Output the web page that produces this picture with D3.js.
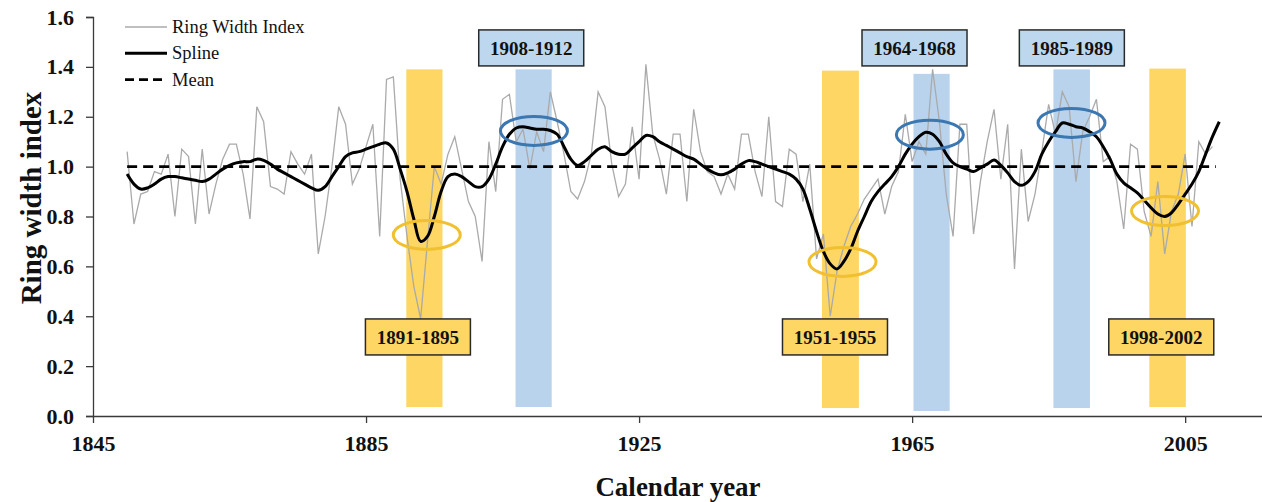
<!DOCTYPE html>
<html>
<head>
<meta charset="utf-8">
<script src="https://cdn.jsdelivr.net/npm/d3@7"></script>
<style>
  body { margin: 0; background: #fff; }
  text { font-family: "Liberation Serif", "Times New Roman", serif; }
</style>
</head>
<body>
<svg id="chart"></svg>
<script>
// ---- data ----
const firstYear = 1850;
const ringWidth = [
  1.06, 0.77, 0.89, 0.90, 0.98, 0.97, 1.05, 0.80, 1.07, 1.04,   // 1850s
  0.77, 1.07, 0.81, 0.93, 1.03, 1.09, 1.09, 0.97, 0.79, 1.24,   // 1860s
  1.18, 0.92, 0.91, 0.89, 1.06, 1.01, 0.97, 1.05, 0.65, 0.80,   // 1870s
  1.00, 1.24, 1.17, 0.93, 0.99, 1.08, 1.17, 0.72, 1.35, 1.36,   // 1880s
  0.95, 0.72, 0.52, 0.39, 0.70, 1.00, 0.93, 1.05, 1.12, 0.99,   // 1890s
  0.86, 0.80, 0.62, 1.10, 0.90, 1.27, 1.29, 1.10, 1.15, 0.99,   // 1900s
  1.14, 1.06, 1.30, 1.18, 1.05, 0.90, 0.87, 0.94, 1.05, 1.30,   // 1910s
  1.24, 1.01, 0.88, 0.93, 1.16, 0.95, 1.41, 1.13, 1.03, 0.89,   // 1920s
  1.13, 1.13, 0.86, 1.23, 1.06, 0.98, 0.96, 0.89, 0.97, 0.91,   // 1930s
  1.13, 1.13, 0.98, 0.88, 1.20, 0.86, 0.84, 1.07, 1.05, 0.86,   // 1940s
  1.01, 0.63, 0.73, 0.40, 0.58, 0.68, 0.76, 0.81, 0.87, 0.91,   // 1950s
  0.95, 0.81, 0.92, 0.98, 1.21, 1.02, 1.10, 1.05, 1.39, 1.18,   // 1960s
  0.89, 0.72, 1.17, 1.17, 0.73, 0.94, 1.10, 1.23, 0.95, 1.17,   // 1970s
  0.59, 1.07, 0.78, 0.89, 1.06, 1.25, 1.13, 1.30, 1.24, 0.94,   // 1980s
  1.14, 1.20, 1.27, 1.02, 1.04, 0.94, 0.75, 1.09, 1.07, 0.82,   // 1990s
  0.72, 0.94, 0.65, 0.82, 0.89, 1.05, 0.76, 1.10, 1.05, 1.08    // 2000s
];
const spline = [
  0.97, 0.93, 0.91, 0.915, 0.93, 0.95, 0.96, 0.96, 0.955, 0.95,
  0.945, 0.94, 0.95, 0.97, 0.99, 1.005, 1.015, 1.02, 1.02, 1.03,
  1.025, 1.01, 0.99, 0.975, 0.96, 0.945, 0.93, 0.915, 0.905, 0.92,
  0.96, 1.00, 1.04, 1.055, 1.06, 1.07, 1.08, 1.09, 1.095, 1.07,
  0.99, 0.90, 0.79, 0.70, 0.72, 0.80, 0.90, 0.96, 0.97, 0.96,
  0.94, 0.92, 0.92, 0.95, 1.01, 1.08, 1.13, 1.155, 1.16, 1.155,
  1.15, 1.15, 1.145, 1.13, 1.08, 1.03, 1.005, 1.02, 1.045, 1.07,
  1.08, 1.06, 1.05, 1.05, 1.075, 1.10, 1.125, 1.12, 1.10, 1.085,
  1.07, 1.055, 1.04, 1.03, 1.01, 0.99, 0.975, 0.967, 0.975, 0.99,
  1.01, 1.024, 1.02, 1.01, 1.00, 0.99, 0.98, 0.97, 0.95, 0.91,
  0.83, 0.74, 0.66, 0.61, 0.59, 0.62, 0.67, 0.74, 0.80, 0.86,
  0.90, 0.93, 0.96, 1.00, 1.05, 1.09, 1.12, 1.138, 1.13, 1.10,
  1.05, 1.015, 1.00, 0.99, 0.98, 0.995, 1.01, 1.027, 1.005, 0.975,
  0.94, 0.925, 0.94, 0.98, 1.05, 1.10, 1.14, 1.175, 1.17, 1.16,
  1.155, 1.14, 1.12, 1.08, 1.03, 0.97, 0.935, 0.915, 0.895, 0.865,
  0.835, 0.81, 0.80, 0.815, 0.85, 0.89, 0.93, 0.98, 1.05, 1.12,
  1.18
];
const meanValue = 1.0;

const xTicks = [1845, 1885, 1925, 1965, 2005];
const yTicks = [0, 0.2, 0.4, 0.6, 0.8, 1.0, 1.2, 1.4, 1.6];

// highlighted periods: label, kind, shaded band, ring around spline, label box
const periodLabels = ["1891-1895", "1908-1912", "1951-1955", "1964-1968", "1985-1989", "1998-2002"];
const periodKind   = ["dry", "wet", "dry", "wet", "wet", "dry"];
const bandStart    = [1890.9, 1906.9, 1951.8, 1965.2, 1985.7, 1999.75];
const bandEnd      = [1896.2, 1912.2, 1957.2, 1970.5, 1991.05, 2005.1];
const bandTop      = [1.39, 1.39, 1.385, 1.372, 1.39, 1.393];
const bandBottom   = [0.036, 0.036, 0.032, 0.02, 0.032, 0.036];
const ringYear     = [1893.9, 1909.6, 1954.8, 1967.6, 1988.35, 2002.05];
const ringValue    = [0.726, 1.143, 0.618, 1.128, 1.175, 0.822];
const labelYear    = [1892.6, 1909.2, 1953.7, 1965.35, 1988.4, 2001.5];
const labelValue   = [0.317, 1.476, 0.317, 1.476, 1.476, 0.317];

const legendNames = ["Ring Width Index", "Spline", "Mean"];

// ---- layout ----
const W = 1262, H = 502;
const colors = {
  grey: "#aaaaaa",
  dryBand: "#fdd663", wetBand: "#b9d3ec",
  dryBox: "#fdd663", wetBox: "#bdd7ee",
  dryRing: "#f0c030", wetRing: "#3b78b2",
  axis: "#3a3a3a"
};

const svg = d3.select("#chart")
    .attr("width", W)
    .attr("height", H)
    .style("display", "block");

svg.append("rect").attr("width", W).attr("height", H).attr("fill", "#fff");

const x = d3.scaleLinear().domain([1845, 2025]).range([93, 93 + 180 * 6.826]);
const y = d3.scaleLinear().domain([0, 1.6]).range([416, 17]);

const periods = periodLabels.map((label, i) => ({
  label, kind: periodKind[i],
  x0: bandStart[i], x1: bandEnd[i], top: bandTop[i], bottom: bandBottom[i],
  ry: ringYear[i], rv: ringValue[i], ly: labelYear[i], lv: labelValue[i]
}));

// shaded bands
svg.append("g").selectAll("rect")
    .data(periods)
  .join("rect")
    .attr("x", d => x(d.x0))
    .attr("width", d => x(d.x1) - x(d.x0))
    .attr("y", d => y(d.top))
    .attr("height", d => y(d.bottom) - y(d.top))
    .attr("fill", d => d.kind === "dry" ? colors.dryBand : colors.wetBand);

// axes
const yAxis = svg.append("g")
    .attr("transform", `translate(${x(1845)},0)`)
    .call(d3.axisLeft(y).tickValues(yTicks).tickFormat(d3.format(".1f"))
      .tickSize(7).tickPadding(12));
const xAxis = svg.append("g")
    .attr("transform", `translate(0,${y(0)})`)
    .call(d3.axisBottom(x).tickValues(xTicks).tickFormat(d3.format("d"))
      .tickSize(7).tickPadding(12).tickSizeOuter(0));

[xAxis, yAxis].forEach(a => {
  a.selectAll("path, line").attr("stroke", colors.axis).attr("stroke-width", 1.3);
  a.selectAll("text")
      .attr("fill", "#111")
      .style("font-size", "22px")
      .style("font-weight", "bold")
      .style("font-family", '"Liberation Serif", serif');
});

// lines
const rwData = ringWidth.map((v, i) => ({ year: firstYear + i, v }));
const spData = spline.map((v, i) => ({ year: firstYear + i, v }));

svg.append("path")
    .datum(rwData)
    .attr("fill", "none")
    .attr("stroke", colors.grey)
    .attr("stroke-width", 1.3)
    .attr("d", d3.line().x(d => x(d.year)).y(d => y(d.v)));

svg.append("path")
    .datum(spData)
    .attr("fill", "none")
    .attr("stroke", "#000")
    .attr("stroke-width", 3)
    .attr("d", d3.line().x(d => x(d.year)).y(d => y(d.v)).curve(d3.curveCatmullRom));

svg.append("line")
    .attr("x1", x(firstYear))
    .attr("x2", x(firstYear + ringWidth.length - 0.5))
    .attr("y1", y(meanValue))
    .attr("y2", y(meanValue))
    .attr("stroke", "#000")
    .attr("stroke-width", 2.6)
    .attr("stroke-dasharray", "10,6");

// rings around spline extremes
svg.append("g").selectAll("ellipse")
    .data(periods)
  .join("ellipse")
    .attr("cx", d => x(d.ry))
    .attr("cy", d => y(d.rv))
    .attr("rx", 33.5)
    .attr("ry", 14.5)
    .attr("fill", "none")
    .attr("stroke", d => d.kind === "dry" ? colors.dryRing : colors.wetRing)
    .attr("stroke-width", 3);

// period label boxes
const boxW = 105, boxH = 36;
const boxes = svg.append("g").selectAll("g")
    .data(periods)
  .join("g")
    .attr("transform", d => `translate(${x(d.ly)},${y(d.lv)})`);

boxes.append("rect")
    .attr("x", -boxW / 2)
    .attr("y", -boxH / 2)
    .attr("width", boxW)
    .attr("height", boxH)
    .attr("fill", d => d.kind === "dry" ? colors.dryBox : colors.wetBox)
    .attr("stroke", "#2a2a2a")
    .attr("stroke-width", 1.5);

boxes.append("text")
    .attr("text-anchor", "middle")
    .attr("dy", "0.35em")
    .style("font-size", "19px")
    .style("font-weight", "bold")
    .attr("fill", "#111")
    .text(d => d.label);

// axis titles
svg.append("text")
    .attr("transform", "translate(41,198) rotate(-90)")
    .attr("text-anchor", "middle")
    .style("font-size", "29px")
    .style("font-weight", "bold")
    .attr("fill", "#111")
    .text("Ring width index");

svg.append("text")
    .attr("x", 678)
    .attr("y", 496)
    .attr("text-anchor", "middle")
    .style("font-size", "27px")
    .style("font-weight", "bold")
    .attr("fill", "#111")
    .text("Calendar year");

// legend
const legend = svg.append("g").attr("transform", "translate(125,27)");
const legendRows = legend.selectAll("g")
    .data(legendNames)
  .join("g")
    .attr("transform", (d, i) => `translate(0,${i * 26.3})`);

legendRows.append("line")
    .attr("x1", 0).attr("x2", 42)
    .attr("stroke", (d, i) => i === 0 ? colors.grey : "#000")
    .attr("stroke-width", (d, i) => i === 0 ? 1.3 : (i === 1 ? 3 : 2.6))
    .attr("stroke-dasharray", (d, i) => i === 2 ? "9,5" : null);

legendRows.append("text")
    .attr("x", 47)
    .attr("dy", "0.32em")
    .style("font-size", "18.5px")
    .attr("fill", "#111")
    .text(d => d);
</script>
</body>
</html>
